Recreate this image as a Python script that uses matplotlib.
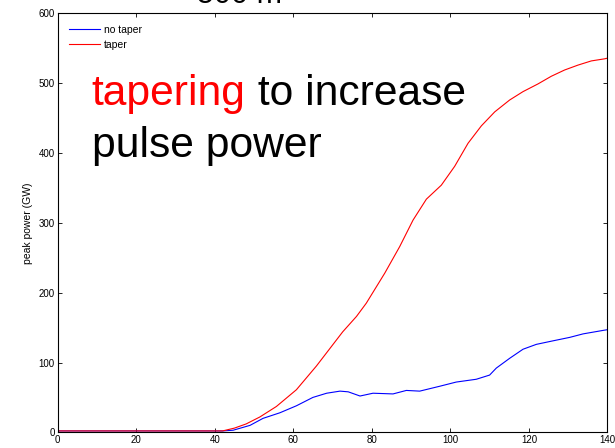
import matplotlib
matplotlib.use("Agg")
import matplotlib.pyplot as plt

plt.rcParams['font.family'] = ['Liberation Sans', 'DejaVu Sans']

# undulator position (m) vs peak power (GW)
x_notaper = [0, 40, 42, 44.7, 49, 52.3, 56.6, 60.8, 65, 68.5, 71.9, 74, 77, 80.3,
             85.4, 88.8, 92.2, 97.3, 101.5, 106.6, 110, 111.7, 115.1, 118.5,
             121.9, 126.1, 130.4, 133.8, 138.9, 140]
p_notaper = [2, 2, 2, 3, 10, 20, 28, 38, 50, 56, 59, 58, 52, 56,
             55, 60, 59, 66, 72, 76, 82, 92, 106, 119,
             126, 131, 136, 141, 146, 147]

x_taper = [0, 40, 42, 45, 48, 51.5, 55.7, 60.8, 65.9, 72.6, 76.1, 78.6, 83.3,
           87.1, 90.5, 93.9, 97.7, 101.1, 104.5, 107.9, 111.3, 115.1, 118.5,
           122.3, 125.7, 129.1, 132.5, 135.9, 139.3, 140]
p_taper = [2, 2, 2, 6, 12, 22, 37, 61, 95, 144, 166, 185, 228,
           266, 304, 334, 354, 381, 414, 439, 459, 476, 488,
           499, 510, 519, 526, 532, 535, 536]

fig = plt.figure(figsize=(6.15, 4.48), dpi=100)
ax = fig.add_axes([0.0937, 0.035, 0.894, 0.935])

ax.plot(x_notaper, p_notaper, color='blue', lw=0.8, label='no taper')
ax.plot(x_taper, p_taper, color='red', lw=0.8, label='taper')

ax.set_xlim(0, 140)
ax.set_ylim(0, 600)
ax.set_xticks(range(0, 141, 20))
ax.set_yticks(range(0, 601, 100))
ax.tick_params(direction='in', length=3, width=0.6, top=True, right=True,
               labelsize=7, pad=2)
for s in ax.spines.values():
    s.set_linewidth(0.8)
ax.set_ylabel('peak power (GW)', fontsize=7.5, labelpad=4)

ax.legend(loc='upper left', bbox_to_anchor=(0.02, 0.973), frameon=False,
          fontsize=7.5, handlelength=3.0, handletextpad=0.4, labelspacing=0.5,
          borderaxespad=0, borderpad=0)

# big annotation: red word then black rest on the same baseline
fs = 30.7
t1 = ax.text(0.062, 0.7815, 'tapering', color='red', fontsize=fs,
             transform=ax.transAxes, va='baseline')
fig.canvas.draw()
bb = t1.get_window_extent()
xend = ax.transAxes.inverted().transform((bb.x1, bb.y0))[0]
ax.text(xend, 0.7815, ' to increase', color='black', fontsize=fs,
        transform=ax.transAxes, va='baseline')
ax.text(0.062, 0.657, 'pulse power', color='black', fontsize=fs,
        transform=ax.transAxes, va='baseline')

# title, cut off at the top of the figure
fig.text(0.39, 1 - 3 / 448, '500 m', fontsize=22, ha='center', va='baseline')

fig.savefig('out.png', dpi=100)
